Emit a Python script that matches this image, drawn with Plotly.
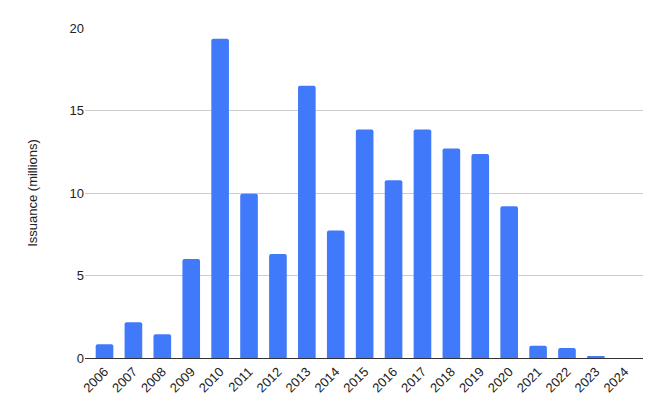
import plotly.graph_objects as go

years = [str(y) for y in range(2006, 2025)]
issuance = [0.83, 2.16, 1.44, 6.0, 19.35, 9.96, 6.3, 16.5, 7.72, 13.85,
            10.78, 13.85, 12.69, 12.37, 9.2, 0.75, 0.61, 0.08, 0.0]
y_ticks = [0, 5, 10, 15, 20]

fig = go.Figure(go.Bar(
    x=years, y=issuance,
    marker=dict(color="#4179fb", cornerradius=2, line=dict(width=0)),
))

fig.update_layout(
    width=664, height=411,
    margin=dict(l=77, r=29, t=20, b=61),
    paper_bgcolor="white", plot_bgcolor="white",
    font=dict(family="Liberation Sans, Arial, sans-serif", size=13, color="#222"),
    bargap=0.39,
    showlegend=False,
)
fig.update_xaxes(
    type="category", tickangle=-45, showgrid=False,
    range=[-0.675, 18.63],
    showline=True, linecolor="#333", linewidth=1,
    ticks="", tickfont=dict(size=13, color="#222"),
)
fig.update_yaxes(
    range=[0, 20], tickvals=y_ticks, showgrid=True, gridcolor="#cccccc",
    zeroline=True, zerolinecolor="#333", zerolinewidth=1,
    title=dict(text="Issuance (millions)", font=dict(size=13, color="#222"), standoff=28),
    tickfont=dict(size=13, color="#222"), ticks="", ticklen=0,
)

fig.write_html("out.html")
